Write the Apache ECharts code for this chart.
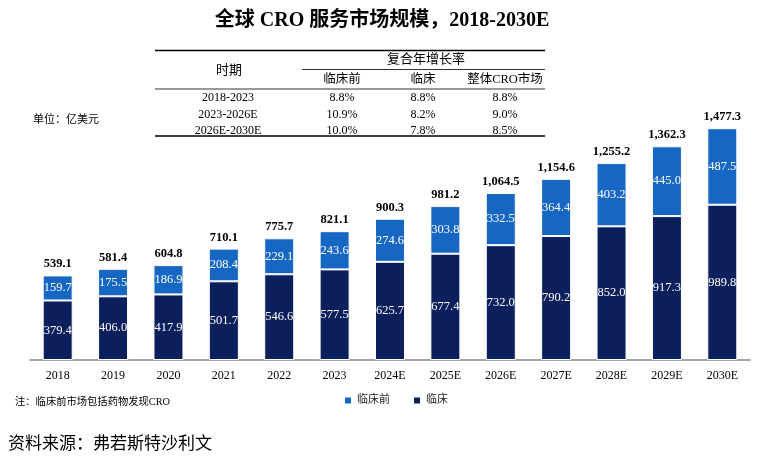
<!DOCTYPE html>
<html><head><meta charset="utf-8">
<script src="https://cdn.jsdelivr.net/npm/echarts@6/dist/echarts.min.js"></script>
<style>html,body{margin:0;padding:0;background:#fff}#c{width:764px;height:463px}</style>
</head><body><div id="c"></div>
<script>
var categories = ['2018','2019','2020','2021','2022','2023','2024E','2025E','2026E','2027E','2028E','2029E','2030E'];
var clinical = [379.4,406.0,417.9,501.7,546.6,577.5,625.7,677.4,732.0,790.2,852.0,917.3,989.8];
var preclinical = [159.7,175.5,186.9,208.4,229.1,243.6,274.6,303.8,332.5,364.4,403.2,445.0,487.5];
var totals = [539.1,581.4,604.8,710.1,775.7,821.1,900.3,981.2,1064.5,1154.6,1255.2,1362.3,1477.3];
var tablePeriods = ['2018-2023','2023-2026E','2026E-2030E'];
var cagrPre = ['8.8%','10.9%','10.0%'];
var cagrClin = ['8.8%','8.2%','7.8%'];
var cagrAll = ['8.8%','9.0%','8.5%'];

var SERIF = '"Liberation Serif","Times New Roman","Noto Sans CJK SC",serif';
var NAVY = '#0b1f5d', BLUE = '#1666c3';
function fmt(v){ return v.toLocaleString('en-US',{minimumFractionDigits:1,maximumFractionDigits:1}); }

var g = [];
function line(x1,y1,x2,y2,w){ g.push({type:'line',shape:{x1:x1,y1:y1,x2:x2,y2:y2},style:{stroke:'#000',lineWidth:w}}); }
function txt(x,y,s,opt){ opt=opt||{}; g.push({type:'text',x:x,y:y,style:{text:s,font:(opt.weight||'normal')+' '+(opt.size||12)+'px '+SERIF,fill:opt.color||'#000',textAlign:opt.align||'center',textVerticalAlign:'middle'}}); }
line(155,50.5,545,50.5,1.5);
line(302,69.5,545,69.5,0.8);
line(155,89,545,89,0.8);
line(155,136,545,136,1.5);
txt(229,71,'时期',{size:13});
txt(426,60,'复合年增长率',{size:13});
txt(342,80,'临床前',{size:12.5});
txt(423,80,'临床',{size:12.5});
txt(505,80,'整体CRO市场',{size:12.5});
var rowY=[98,115,131];
for (var i=0;i<3;i++){
  txt(228,rowY[i],tablePeriods[i]); txt(342,rowY[i],cagrPre[i]); txt(423,rowY[i],cagrClin[i]); txt(505,rowY[i],cagrAll[i]);
}
txt(33,120,'单位：亿美元',{align:'left',size:11});
txt(15,402,'注：临床前市场包括药物发现CRO',{align:'left',size:10.3});
txt(8,445,'资料来源：弗若斯特沙利文',{align:'left',size:17});

var chart = echarts.init(document.getElementById('c'));
chart.setOption({
  animation:false,
  title:{text:'全球 CRO 服务市场规模，2018-2030E',left:'center',top:6,textStyle:{fontFamily:SERIF,fontWeight:'bold',fontSize:20,color:'#000'}},
  grid:{left:30,right:14,top:109,bottom:103},
  legend:{data:['临床前','临床'],left:338,top:390,icon:'rect',itemWidth:8,itemHeight:8,itemGap:22,textStyle:{fontFamily:SERIF,fontSize:11,color:'#222'}},
  xAxis:{type:'category',data:categories,axisTick:{show:false},axisLine:{lineStyle:{color:'#888',width:1.5}},axisLabel:{fontFamily:SERIF,fontSize:12,color:'#000',margin:10}},
  yAxis:{type:'value',min:0,max:1600,show:false,splitLine:{show:false}},
  series:[
    {name:'临床',type:'bar',stack:'s',barWidth:30,data:clinical,itemStyle:{color:NAVY,borderColor:'#fff',borderWidth:1},
     label:{show:true,position:'inside',color:'#fff',fontFamily:SERIF,fontSize:12.5,formatter:function(p){return p.value.toFixed(1);}}},
    {name:'临床前',type:'bar',stack:'s',barWidth:30,data:preclinical,itemStyle:{color:BLUE,borderColor:'#fff',borderWidth:1},
     label:{show:true,position:'inside',color:'#fff',fontFamily:SERIF,fontSize:12.5,formatter:function(p){return p.value.toFixed(1);}}},
    {name:'合计',type:'bar',stack:'s',barWidth:30,data:totals.map(function(){return 0;}),itemStyle:{color:'transparent'},
     label:{show:true,position:'top',distance:5,color:'#000',fontFamily:SERIF,fontWeight:'bold',fontSize:12.5,formatter:function(p){return fmt(totals[p.dataIndex]);}}}
  ],
  graphic:g
});
</script></body></html>
